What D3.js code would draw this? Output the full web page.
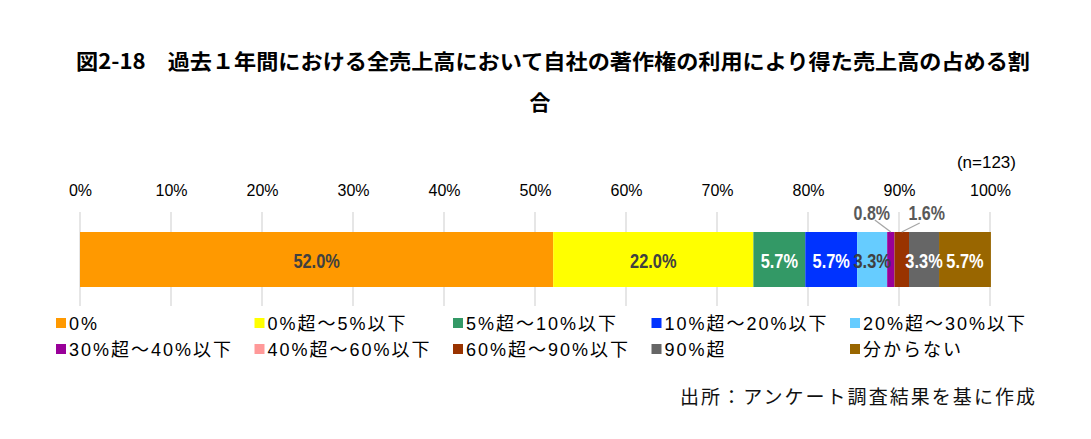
<!DOCTYPE html>
<html>
<head>
<meta charset="utf-8">
<script src="https://cdn.jsdelivr.net/npm/d3@7"></script>
<style>
  body { margin: 0; background: #fff; }
  svg text { font-family: "Liberation Sans", Arial, "Noto Sans CJK JP", sans-serif; }
</style>
</head>
<body>
<svg id="chart" width="1091" height="439"></svg>
<script>
// data
var categories = ["0%", "0%超～5%以下", "5%超～10%以下", "10%超～20%以下", "20%超～30%以下",
	"30%超～40%以下", "40%超～60%以下", "60%超～90%以下", "90%超", "分からない"];
var values = [52.0, 22.0, 5.7, 5.7, 3.3, 0.8, 0.0, 1.6, 3.3, 5.7];
var colors = ["#FF9900", "#FFFF00", "#339966", "#0033FF", "#66CCFF",
	"#990099", "#FF9999", "#993300", "#666666", "#996600"];
var labelColors = ["#404040", "#404040", "#fff", "#fff", "#404040",
	"#595959", "#595959", "#595959", "#fff", "#fff"];
var ticks = [0, 10, 20, 30, 40, 50, 60, 70, 80, 90, 100];
var titleLines = ["図2-18　過去１年間における全売上高において自社の著作権の利用により得た売上高の占める割", "合"];
var note = "(n=123)";
var source = "出所：アンケート調査結果を基に作成";

var svg = d3.select("#chart");

var x = d3.scaleLinear().domain([0, 100]).range([80, 990]);
var y = d3.scaleBand().domain(["all"]).range([232, 287]).padding(0);

// condensed bold for the value labels (no narrow face installed, so squeeze it)
var narrow = function(sel, size) {
	sel.style("font-family", "'Liberation Sans', Arial, sans-serif")
		.style("font-weight", 700).style("font-size", size + "px");
};

// title
svg.append("text")
	.attr("x", 76).attr("y", 69)
	.attr("textLength", 954).attr("lengthAdjust", "spacingAndGlyphs")
	.style("font-family", "'Noto Sans CJK JP', sans-serif")
	.style("font-weight", 700).style("font-size", "21px")
	.text(titleLines[0]);
svg.append("text")
	.attr("x", 540).attr("y", 110).attr("text-anchor", "middle")
	.style("font-family", "'Noto Sans CJK JP', sans-serif")
	.style("font-weight", 700).style("font-size", "21px")
	.text(titleLines[1]);

svg.append("text")
	.attr("x", 1016).attr("y", 168).attr("text-anchor", "end")
	.style("font-size", "17px").attr("fill", "#000")
	.text(note);

// gridlines + top axis labels
var grid = svg.append("g").attr("class", "grid");
grid.selectAll("line").data(ticks).enter().append("line")
	.attr("x1", function(d) { return x(d); })
	.attr("x2", function(d) { return x(d); })
	.attr("y1", 212).attr("y2", 306)
	.attr("stroke", "#D9D9D9").attr("stroke-width", 1.3);

var axis = d3.axisTop(x).tickValues(ticks).tickSize(0).tickPadding(0)
	.tickFormat(function(d) { return d + "%"; });
var axisG = svg.append("g").attr("transform", "translate(0,196)").call(axis);
axisG.select(".domain").remove();
axisG.selectAll("text")
	.style("font-size", "16px").attr("fill", "#000")
	.style("font-family", "'Liberation Sans', Arial, sans-serif");

// stacked segments
var stack = [];
var acc = 0;
values.forEach(function(v, i) {
	stack.push({ name: categories[i], value: v, x0: acc, x1: acc + v, i: i });
	acc += v;
});

var bars = svg.append("g").attr("class", "bars");
bars.selectAll("rect").data(stack).enter().append("rect")
	.attr("x", function(d) { return x(d.x0); })
	.attr("y", y("all"))
	.attr("width", function(d) { return x(d.x1) - x(d.x0); })
	.attr("height", y.bandwidth())
	.attr("fill", function(d) { return colors[d.i]; });

var mid = y("all") + y.bandwidth() / 2;
var fmt = function(v) { return v.toFixed(1) + "%"; };

// labels inside the bar for the wide segments
var inside = stack.filter(function(d) { return d.value >= 3; });
bars.selectAll("text.inside").data(inside).enter().append("text")
	.attr("class", "inside")
	.attr("transform", function(d) {
		return "translate(" + x((d.x0 + d.x1) / 2) + "," + (mid + 8) + ") scale(0.78,1)";
	})
	.attr("text-anchor", "middle")
	.attr("fill", function(d) { return labelColors[d.i]; })
	.call(narrow, 21)
	.text(function(d) { return fmt(d.value); });

// small segments get a label above with a leader line
var outside = stack.filter(function(d) { return d.value > 0 && d.value < 3; });
var offsets = { 5: { lx: -16, ly: 12, tx: -19 }, 7: { lx: 18, ly: 9, tx: 25 } };
var callout = bars.selectAll("g.callout").data(outside).enter().append("g").attr("class", "callout");
callout.append("line")
	.attr("x1", function(d) { return x((d.x0 + d.x1) / 2); })
	.attr("y1", y("all"))
	.attr("x2", function(d) { return x((d.x0 + d.x1) / 2) + offsets[d.i].lx; })
	.attr("y2", function(d) { return y("all") - offsets[d.i].ly; })
	.attr("stroke", "#A6A6A6").attr("stroke-width", 1.3);
callout.append("text")
	.attr("transform", function(d) {
		return "translate(" + (x((d.x0 + d.x1) / 2) + offsets[d.i].tx) + ",220) scale(0.8,1)";
	})
	.attr("text-anchor", "middle")
	.attr("fill", "#595959")
	.call(narrow, 20)
	.text(function(d) { return fmt(d.value); });

// legend, 5 columns x 2 rows
var legend = svg.append("g").attr("class", "legend");
var item = legend.selectAll("g").data(categories).enter().append("g")
	.attr("transform", function(d, i) {
		return "translate(" + (56 + (i % 5) * 198.5) + "," + (323 + Math.floor(i / 5) * 26) + ")";
	});
item.append("rect")
	.attr("x", 0).attr("y", -5).attr("width", 10).attr("height", 10)
	.attr("fill", function(d, i) { return colors[i]; });
item.append("text")
	.attr("x", 13).attr("y", 7)
	.style("font-size", "18px").style("letter-spacing", "2px").attr("fill", "#000")
	.style("font-family", "'Liberation Sans', Arial, 'Noto Sans CJK JP', sans-serif")
	.text(function(d) { return d; });

// source
svg.append("text")
	.attr("x", 1035).attr("y", 404).attr("text-anchor", "end")
	.attr("textLength", 355).attr("lengthAdjust", "spacing")
	.style("font-family", "'Noto Sans CJK JP', sans-serif")
	.style("font-weight", 400).style("font-size", "19px")
	.attr("fill", "#111")
	.text(source);
</script>
</body>
</html>
